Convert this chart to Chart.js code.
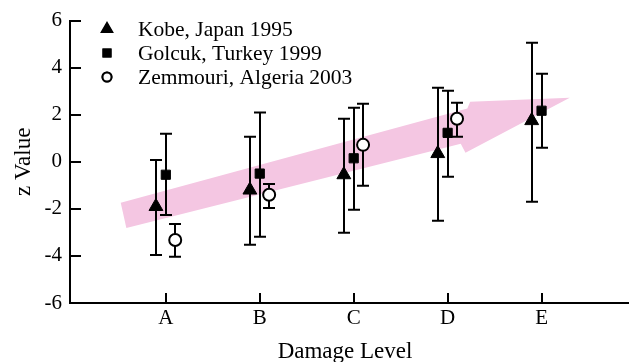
<!DOCTYPE html>
<html>
<head>
<meta charset="utf-8">
<script src="https://cdn.jsdelivr.net/npm/chart.js@4.4.1/dist/chart.umd.min.js"></script>
<style>
    html, body { margin: 0; padding: 0; background: #fff; overflow: hidden; }
    #chart { display: block; }
</style>
</head>
<body>
<canvas id="chart" width="629" height="362"></canvas>
<script>
const categories = ['A', 'B', 'C', 'D', 'E'];

const seriesNames = ['Kobe, Japan 1995', 'Golcuk, Turkey 1999', 'Zemmouri, Algeria 2003'];

// mean z values, one entry per damage level (null = no data)
const kobeMean = [-1.9, -1.2, -0.55, 0.35, 1.75];
const kobeHigh = [0.08, 1.06, 1.83, 3.15, 5.06];
const kobeLow = [-3.96, -3.53, -3.02, -2.51, -1.70];

const golcukMean = [-0.55, -0.5, 0.15, 1.23, 2.17];
const golcukHigh = [1.19, 2.09, 2.30, 3.02, 3.74];
const golcukLow = [-2.26, -3.19, -2.04, -0.64, 0.60];

const zemmouriMean = [-3.32, -1.4, 0.72, 1.83, null];
const zemmouriHigh = [-2.64, -0.94, 2.47, 2.51, null];
const zemmouriLow = [-4.04, -1.96, -1.02, 1.06, null];

const yTicks = [-6, -4, -2, 0, 2, 4, 6];

// background trend arrow, in data units (x = category position, y = z value)
const arrowShape = [
    [0.52, -1.74], [4.21, 2.26], [4.24, 2.55], [5.30, 2.72],
    [4.19, 0.38], [4.14, 0.77], [0.58, -2.81],
];

const FONT = '"Liberation Serif", "Times New Roman", serif';
const offsets = [-0.105, 0, 0.1];

function toPoints(mean, high, low, shift) {
    const pts = [];
    mean.forEach((v, i) => {
        if (v === null) return;
        pts.push({ x: i + 1 + shift, y: v, hi: high[i], lo: low[i] });
    });
    return pts;
}

const arrowPlugin = {
    id: 'arrow',
    beforeDatasetsDraw(chart) {
        const { ctx, scales: { x, y } } = chart;
        ctx.save();
        ctx.fillStyle = 'rgb(244, 198, 226)';
        ctx.beginPath();
        arrowShape.forEach(([px, py], i) => {
            const cx = x.getPixelForValue(px);
            const cy = y.getPixelForValue(py);
            if (i === 0) ctx.moveTo(cx, cy); else ctx.lineTo(cx, cy);
        });
        ctx.closePath();
        ctx.fill();
        ctx.restore();
    },
};

const errorBarPlugin = {
    id: 'errorBars',
    beforeDatasetsDraw(chart) {
        const { ctx, scales: { x, y } } = chart;
        ctx.save();
        ctx.strokeStyle = '#000';
        ctx.lineWidth = 2;
        chart.data.datasets.forEach(ds => {
            ds.data.forEach(p => {
                const cx = Math.round(x.getPixelForValue(p.x));
                const top = y.getPixelForValue(p.hi);
                const bot = y.getPixelForValue(p.lo);
                ctx.beginPath();
                ctx.moveTo(cx, top);
                ctx.lineTo(cx, bot);
                ctx.moveTo(cx - 6, top);
                ctx.lineTo(cx + 6, top);
                ctx.moveTo(cx - 6, bot);
                ctx.lineTo(cx + 6, bot);
                ctx.stroke();
            });
        });
        ctx.restore();
    },
};

// ticks that point into the plot area, and the x axis running to the edge
const innerTicksPlugin = {
    id: 'innerTicks',
    afterDraw(chart) {
        const { ctx, chartArea, scales: { x, y } } = chart;
        ctx.save();
        ctx.strokeStyle = '#000';
        ctx.lineWidth = 2;
        ctx.beginPath();
        y.ticks.forEach(t => {
            const py = Math.round(y.getPixelForValue(t.value));
            ctx.moveTo(chartArea.left, py);
            ctx.lineTo(chartArea.left + 11, py);
        });
        x.ticks.forEach(t => {
            const px = Math.round(x.getPixelForValue(t.value));
            ctx.moveTo(px, chartArea.bottom);
            ctx.lineTo(px, chartArea.bottom - 10);
        });
        ctx.moveTo(chartArea.right - 1, chartArea.bottom);
        ctx.lineTo(chart.width, chartArea.bottom);
        ctx.stroke();
        ctx.restore();
    },
};

const legendPlugin = {
    id: 'innerLegend',
    afterDraw(chart) {
        const { ctx } = chart;
        ctx.save();
        ctx.font = '21.5px ' + FONT;
        ctx.textBaseline = 'middle';
        ctx.fillStyle = '#000';
        chart.data.datasets.forEach((ds, i) => {
            const cy = 29 + i * 24;
            Chart.helpers.drawPoint(ctx, {
                pointStyle: ds.pointStyle,
                radius: ds.pointStyle === 'triangle' ? 6 : ds.pointStyle === 'rect' ? 5 : 4.5,
                borderWidth: 2,
            }, 107, cy);
            ctx.fillStyle = ds.pointBackgroundColor;
            ctx.strokeStyle = '#000';
            ctx.lineWidth = 2;
            ctx.fill();
            ctx.stroke();
            ctx.fillStyle = '#000';
            ctx.fillText(ds.label, 138, cy + 1);
        });
        ctx.restore();
    },
};

const datasets = [
    {
        label: seriesNames[0],
        data: toPoints(kobeMean, kobeHigh, kobeLow, offsets[0]),
        pointStyle: 'triangle',
        pointRadius: 8,
        pointBackgroundColor: '#000',
        pointBorderColor: '#000',
        pointBorderWidth: 1,
    },
    {
        label: seriesNames[1],
        data: toPoints(golcukMean, golcukHigh, golcukLow, offsets[1]),
        pointStyle: 'rect',
        pointRadius: 6.5,
        pointBackgroundColor: '#000',
        pointBorderColor: '#000',
        pointBorderWidth: 1,
    },
    {
        label: seriesNames[2],
        data: toPoints(zemmouriMean, zemmouriHigh, zemmouriLow, offsets[2]),
        pointStyle: 'circle',
        pointRadius: 6,
        pointBackgroundColor: '#fff',
        pointBorderColor: '#000',
        pointBorderWidth: 2,
    },
];

new Chart(document.getElementById('chart'), {
    type: 'scatter',
    data: { datasets },
    plugins: [arrowPlugin, errorBarPlugin, innerTicksPlugin, legendPlugin],
    options: {
        responsive: false,
        animation: false,
        layout: { padding: { top: 20, right: 0, left: 0, bottom: 0 } },
        plugins: {
            legend: { display: false },
            tooltip: { enabled: false },
        },
        scales: {
            x: {
                type: 'linear',
                min: -0.02,
                max: 5.835,
                afterBuildTicks(scale) {
                    scale.ticks = categories.map((c, i) => ({ value: i + 1 }));
                },
                afterFit(scale) { scale.height = 59; },
                ticks: {
                    callback: (v) => categories[v - 1] ?? '',
                    color: '#000',
                    font: { family: FONT, size: 21 },
                    padding: 3,
                    maxRotation: 0,
                },
                grid: { drawOnChartArea: false, drawTicks: false },
                border: { display: true, color: '#000', width: 2 },
                title: {
                    display: true,
                    text: 'Damage Level',
                    color: '#000',
                    font: { family: FONT, size: 23 },
                    padding: { top: 0, bottom: -4 },
                },
            },
            y: {
                min: -6,
                max: 6,
                afterBuildTicks(scale) {
                    scale.ticks = yTicks.map(v => ({ value: v }));
                },
                afterFit(scale) { scale.width = 70; },
                ticks: {
                    color: '#000',
                    font: { family: FONT, size: 21 },
                    padding: 8,
                },
                grid: { drawOnChartArea: false, drawTicks: false },
                border: { display: true, color: '#000', width: 2 },
                title: {
                    display: true,
                    text: 'z Value',
                    color: '#000',
                    font: { family: FONT, size: 23 },
                    padding: { top: 10, bottom: 0 },
                },
            },
        },
    },
});
</script>
</body>
</html>
